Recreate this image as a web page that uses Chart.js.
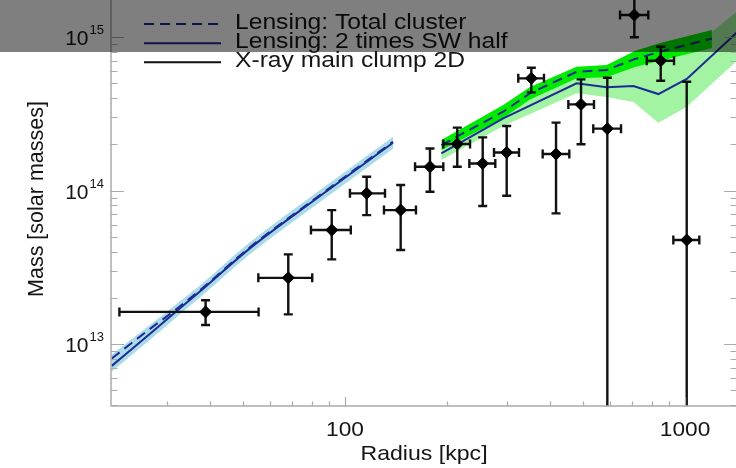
<!DOCTYPE html>
<html><head><meta charset="utf-8">
<script src="https://cdn.jsdelivr.net/npm/chart.js@4.4.0/dist/chart.umd.min.js"></script>
<style>
html,body{margin:0;padding:0;background:#fff;overflow:hidden;width:736px;height:468px}
#wrap{position:absolute;left:0;top:0;width:740px;height:468px}
</style></head><body>
<div id="wrap"><canvas id="c" width="740" height="468"></canvas></div>
<script>
// ---------- data ----------
const seriesNames = ['Lensing: Total cluster', 'Lensing: 2 times SW half', 'X-ray main clump 2D'];

// X-ray main clump points (radius kpc, mass Msun) with error ranges
const xrayR   = [38.9, 68.1, 91.4, 115.8, 145.8, 177.8, 213.9, 254.1, 298.9, 353.2, 417.5, 494.5, 590.9, 709.5, 848.3, 1011.6];
const xrayRlo = [21.7, 55.6, 79.4, 103.4, 130.2, 160.7, 194.6, 232.1, 274.3, 323.3, 381.4, 453.8, 537.2, 644.0, 771.8, 924.0];
const xrayRhi = [55.7, 80.1, 104.0, 131.1, 161.7, 194.6, 233.2, 276.7, 324.9, 384.8, 456.8, 539.8, 648.3, 779.9, 928.2, 1101.7];
const xrayM   = [1.62e13, 2.70e13, 5.53e13, 9.59e13, 7.46e13, 1.43e14, 2.01e14, 1.50e14, 1.77e14, 5.38e14, 1.73e14, 3.64e14, 2.53e14, 1.39e15, 7.01e14, 4.76e13];
const xrayMlo = [1.33e13, 1.56e13, 3.56e13, 6.92e13, 4.10e13, 9.82e13, 1.43e14, 7.93e13, 9.25e13, 4.36e14, 7.10e13, 2.00e14, 1e12, 9.96e14, 5.19e14, 1e12];
const xrayMhi = [1.93e13, 3.84e13, 7.46e13, 1.23e14, 1.086e14, 1.88e14, 2.57e14, 2.22e14, 2.63e14, 6.31e14, 2.77e14, 5.30e14, 5.43e14, 1.96e15, 8.65e14, 5.11e14];

// Inner lensing profile
const innerR      = [20.6, 26.7, 31.8, 37.5, 52.5, 82.7, 138.4];
const innerTotal  = [8.05e12, 1.256e13, 1.678e13, 2.248e13, 4.27e13, 9.03e13, 2.08e14];
const innerSW     = [7.21e12, 1.167e13, 1.623e13, 2.208e13, 4.20e13, 8.90e13, 2.048e14];
const innerBandHi = [8.54e12, 1.33e13, 1.81e13, 2.42e13, 4.60e13, 9.73e13, 2.24e14];
const innerBandLo = [6.59e12, 1.067e13, 1.484e13, 2.017e13, 3.84e13, 8.13e13, 1.872e14];

// Outer lensing: total cluster
const totR  = [192, 292, 350, 480, 588, 712, 840, 1200];
const totM  = [1.979e14, 3.26e14, 4.30e14, 5.94e14, 6.10e14, 7.19e14, 7.99e14, 9.78e14];
const totHi = [2.133e14, 3.606e14, 4.72e14, 6.40e14, 6.57e14, 8.11e14, 9.10e14, 1.111e15];
const totLo = [1.835e14, 2.967e14, 3.915e14, 5.38e14, 5.46e14, 6.38e14, 6.98e14, 8.48e14];

// Outer lensing: 2 x SW half
const swR  = [192, 292, 480, 588, 705, 835, 1012, 1500];
const swM  = [1.747e14, 2.954e14, 4.995e14, 4.70e14, 4.80e14, 4.25e14, 5.33e14, 1.197e15];
const swHi = [1.932e14, 3.345e14, 5.80e14, 5.57e14, 6.47e14, 7.08e14, 7.99e14, 1.616e15];
const swLo = [1.580e14, 2.63e14, 4.30e14, 4.07e14, 3.77e14, 2.765e14, 3.515e14, 7.81e14];

// axes
const xRange = [20.5, 1422];
const yRange = [3.95e12, 1.742e15];
const xTickVals = [100, 1000];
const xTickLabels = ['100', '1000'];
const yTickVals = [1e13, 1e14, 1e15];
const yTickBase = ['10', '10', '10'];
const yTickExp = ['13', '14', '15'];
const xTitle = 'Radius [kpc]';
const yTitle = 'Mass [solar masses]';

// ---------- styles ----------
const NAVY = 'rgb(30,42,150)';
const LIGHTBLUE = 'rgb(170,220,232)';
const BRIGHTGREEN = 'rgb(0,234,0)';
const LIGHTGREEN = 'rgb(162,244,162)';
const AXIS = 'rgb(170,170,170)';
const TXT = '#151515';
const FONT = "'Liberation Sans', Arial, Helvetica, sans-serif";

const pts = (xs, ys) => xs.map((x, i) => ({x, y: ys[i]}));

const bandDs = (xs, ys, color, fill, order, mode) => ({
  data: pts(xs, ys), showLine: true, pointRadius: 0, borderWidth: 0,
  borderColor: 'rgba(0,0,0,0)', backgroundColor: color, fill: fill, order: order,
  cubicInterpolationMode: mode, clip: 0
});
const lineDs = (xs, ys, dash, order, mode) => ({
  data: pts(xs, ys), showLine: true, pointRadius: 0, borderWidth: 2,
  borderColor: NAVY, borderDash: dash, fill: false, order: order,
  cubicInterpolationMode: mode, clip: 0
});

const datasets = [
  bandDs(innerR, innerBandHi, LIGHTBLUE, '+1', 5, 'monotone'),
  bandDs(innerR, innerBandLo, LIGHTBLUE, false, 5, 'monotone'),
  bandDs(swR, swHi, LIGHTGREEN, '+1', 4, 'default'),
  bandDs(swR, swLo, LIGHTGREEN, false, 4, 'default'),
  bandDs(totR, totHi, BRIGHTGREEN, '+1', 3, 'default'),
  bandDs(totR, totLo, BRIGHTGREEN, false, 3, 'default'),
  lineDs(innerR, innerSW, [], 2, 'monotone'),
  lineDs(innerR, innerTotal, [10, 6], 1, 'monotone'),
  lineDs(swR, swM, [], 2, 'default'),
  lineDs(totR, totM, [10, 6], 1, 'default'),
  {
    data: pts(xrayR, xrayM), showLine: false, pointStyle: 'rectRot',
    pointRadius: 6, pointBackgroundColor: '#000', pointBorderColor: '#000',
    pointBorderWidth: 1, order: 0, clip: 0
  }
];
const XRAY = datasets.length - 1;

function stretchText(ctx, txt, x, y, sx, align) {
  ctx.save(); ctx.translate(x, y); ctx.scale(sx, 1);
  ctx.textAlign = align; ctx.fillText(txt, 0, 0); ctx.restore();
}

const errPlugin = {
  id: 'errbars',
  beforeDatasetDraw(chart, args) {
    if (args.index !== XRAY) return;
    const {ctx, chartArea: a, scales: {x, y}} = chart;
    ctx.save();
    ctx.beginPath(); ctx.rect(a.left, a.top, a.right - a.left, a.bottom - a.top); ctx.clip();
    ctx.strokeStyle = '#111'; ctx.lineWidth = 2.4; ctx.lineCap = 'butt';
    const cap = 4.5;
    for (let i = 0; i < xrayR.length; i++) {
      const px = x.getPixelForValue(xrayR[i]), py = y.getPixelForValue(xrayM[i]);
      const x0 = x.getPixelForValue(xrayRlo[i]), x1 = x.getPixelForValue(xrayRhi[i]);
      const y0 = y.getPixelForValue(xrayMlo[i]), y1 = y.getPixelForValue(xrayMhi[i]);
      ctx.beginPath();
      ctx.moveTo(x0, py); ctx.lineTo(x1, py);
      ctx.moveTo(x0, py - cap); ctx.lineTo(x0, py + cap);
      ctx.moveTo(x1, py - cap); ctx.lineTo(x1, py + cap);
      ctx.moveTo(px, y0); ctx.lineTo(px, y1);
      ctx.moveTo(px - cap, y0); ctx.lineTo(px + cap, y0);
      ctx.moveTo(px - cap, y1); ctx.lineTo(px + cap, y1);
      ctx.stroke();
    }
    ctx.restore();
  }
};

function logTicks(min, max) {
  const out = [];
  for (let d = Math.floor(Math.log10(min)); d <= Math.ceil(Math.log10(max)); d++) {
    for (let k = 1; k <= 9; k++) {
      const v = k * Math.pow(10, d);
      if (v >= min && v <= max) out.push({v, major: k === 1});
    }
  }
  return out;
}

const framePlugin = {
  id: 'frame',
  afterDatasetsDraw(chart) {
    const {ctx, chartArea: a, scales: {x, y}} = chart;
    ctx.save();
    ctx.strokeStyle = AXIS; ctx.lineWidth = 1.5;
    ctx.beginPath();
    ctx.moveTo(a.left, a.top); ctx.lineTo(a.left, a.bottom); ctx.lineTo(a.right, a.bottom);
    ctx.stroke();
    ctx.lineWidth = 1.2;
    ctx.beginPath();
    for (const t of logTicks(yRange[0], yRange[1])) {
      const py = Math.round(y.getPixelForValue(t.v)) + 0.5;
      const len = t.major ? 13 : 6.5;
      ctx.moveTo(a.left, py); ctx.lineTo(a.left + len, py);
      ctx.moveTo(a.right, py); ctx.lineTo(a.right - len, py);
    }
    for (const t of logTicks(xRange[0], xRange[1])) {
      const px = Math.round(x.getPixelForValue(t.v)) + 0.5;
      const len = t.major ? 9 : 4.5;
      ctx.moveTo(px, a.bottom); ctx.lineTo(px, a.bottom - len);
    }
    ctx.stroke();

    // tick labels
    ctx.fillStyle = TXT; ctx.textBaseline = 'alphabetic';
    ctx.font = '21px ' + FONT;
    xTickVals.forEach((v, i) => {
      stretchText(ctx, xTickLabels[i], x.getPixelForValue(v), a.bottom + 30, 1.08, 'center');
    });
    yTickVals.forEach((v, i) => {
      const py = y.getPixelForValue(v);
      ctx.font = '13px ' + FONT;
      const w2 = ctx.measureText(yTickExp[i]).width;
      const right = a.left - 7;
      ctx.textAlign = 'left';
      ctx.fillText(yTickExp[i], right - w2, py - 3);
      ctx.font = '21px ' + FONT;
      ctx.textAlign = 'right';
      ctx.fillText(yTickBase[i], right - w2 - 1, py + 8);
    });
    // axis titles
    ctx.font = '21px ' + FONT;
    stretchText(ctx, xTitle, (a.left + a.right) / 2, a.bottom + 54, 1.1, 'center');
    ctx.save();
    ctx.translate(43, 199); ctx.rotate(-Math.PI / 2);
    ctx.font = '21.5px ' + FONT; ctx.textAlign = 'center';
    ctx.fillText(yTitle, 0, 0);
    ctx.restore();
    ctx.restore();
  },
  afterDraw(chart) {
    const {ctx, chartArea: a} = chart;
    ctx.save();
    // legend
    const styles = [{c: NAVY, d: [10, 6]}, {c: NAVY, d: []}, {c: '#111', d: []}];
    const rows = [24, 43.3, 62.3];
    seriesNames.forEach((name, i) => {
      ctx.strokeStyle = styles[i].c; ctx.lineWidth = 2; ctx.setLineDash(styles[i].d);
      ctx.beginPath(); ctx.moveTo(a.left + 33, rows[i]); ctx.lineTo(a.left + 110, rows[i]); ctx.stroke();
      ctx.setLineDash([]);
      ctx.fillStyle = TXT; ctx.font = '22px ' + FONT;
      stretchText(ctx, name, a.left + 124, rows[i] + 4.5, 1.12, 'left');
    });
    // translucent band across the top
    ctx.fillStyle = 'rgba(0,0,0,0.5)';
    ctx.fillRect(0, 0, chart.width, 52);
    ctx.restore();
  }
};

new Chart(document.getElementById('c'), {
  type: 'scatter',
  data: {datasets},
  options: {
    responsive: false, animation: false, devicePixelRatio: 1,
    layout: {autoPadding: false, padding: {left: 111, top: 0, right: 3, bottom: 62}},
    plugins: {legend: {display: false}, tooltip: {enabled: false}},
    elements: {line: {tension: 0}},
    scales: {
      x: {type: 'logarithmic', min: xRange[0], max: xRange[1], display: false},
      y: {type: 'logarithmic', min: yRange[0], max: yRange[1], display: false}
    }
  },
  plugins: [errPlugin, framePlugin]
});
</script></body></html>
